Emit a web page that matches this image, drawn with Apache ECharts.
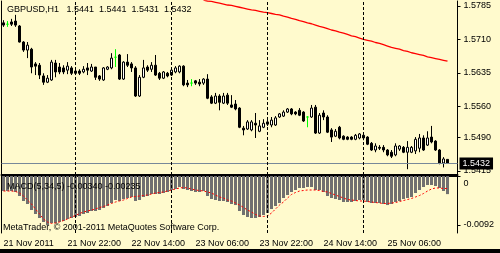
<!DOCTYPE html>
<html>
<head>
<meta charset="utf-8">
<script src="https://cdn.jsdelivr.net/npm/echarts@6/dist/echarts.min.js"></script>
<style>html,body{margin:0;padding:0;background:#fffacd;}#c{width:500px;height:253px;}</style>
</head>
<body>
<div id="c"></div>
<script>
// ---------------- data ----------------
const symbolName = 'GBPUSD,H1';
const startTime = Date.UTC(2011, 10, 21, 6); // first visible H1 bar
const slotCount = 114; // 112 bars + chart shift
const opens = [
1.5747,1.5744,1.5749,1.5751,1.5740,1.5704,1.5686,1.5688,1.5655,1.5652,
1.5628,1.5614,1.5619,1.5657,1.5648,1.5646,1.5641,1.5646,1.5639,1.5639,
1.5637,1.5646,1.5639,1.5648,1.5628,1.5619,1.5643,1.5646,1.5670,1.5675,
1.5621,1.5659,1.5655,1.5646,1.5583,1.5625,1.5648,1.5643,1.5652,1.5634,
1.5623,1.5634,1.5630,1.5637,1.5637,1.5650,1.5612,1.5612,1.5617,1.5614,
1.5612,1.5621,1.5581,1.5567,1.5583,1.5567,1.5585,1.5563,1.5565,1.5556,
1.5511,1.5509,1.5507,1.5522,1.5504,1.5513,1.5525,1.5518,1.5518,1.5536,
1.5538,1.5547,1.5554,1.5547,1.5551,1.5547,1.5536,1.5536,1.5558,1.5500,
1.5545,1.5536,1.5507,1.5493,1.5513,1.5493,1.5491,1.5491,1.5486,1.5489,
1.5495,1.5491,1.5477,1.5462,1.5468,1.5468,1.5462,1.5457,1.5451,1.5464,
1.5468,1.5457,1.5457,1.5460,1.5466,1.5489,1.5473,1.5491,1.5482,1.5462,
1.5433,1.5441];
const closes = [
1.5742,1.5744,1.5744,1.5742,1.5704,1.5686,1.5697,1.5648,1.5650,1.5630,
1.5614,1.5623,1.5659,1.5637,1.5637,1.5637,1.5650,1.5634,1.5634,1.5634,
1.5643,1.5641,1.5648,1.5625,1.5621,1.5646,1.5648,1.5668,1.5670,1.5621,
1.5659,1.5652,1.5646,1.5583,1.5625,1.5646,1.5641,1.5652,1.5630,1.5623,
1.5637,1.5628,1.5641,1.5646,1.5650,1.5608,1.5608,1.5612,1.5612,1.5610,
1.5621,1.5578,1.5567,1.5583,1.5569,1.5583,1.5567,1.5558,1.5554,1.5513,
1.5507,1.5525,1.5525,1.5518,1.5516,1.5522,1.5520,1.5529,1.5534,1.5543,
1.5547,1.5554,1.5543,1.5543,1.5540,1.5527,1.5536,1.5556,1.5500,1.5540,
1.5536,1.5502,1.5491,1.5504,1.5489,1.5486,1.5486,1.5486,1.5495,1.5498,
1.5489,1.5475,1.5462,1.5471,1.5466,1.5462,1.5451,1.5448,1.5471,1.5471,
1.5457,1.5468,1.5468,1.5486,1.5489,1.5462,1.5489,1.5480,1.5462,1.5433,
1.5442,1.5432];
const lows = [
1.5738,1.5738,1.5740,1.5738,1.5703,1.5682,1.5668,1.5634,1.5630,1.5621,
1.5608,1.5612,1.5617,1.5625,1.5632,1.5632,1.5632,1.5630,1.5630,1.5630,
1.5634,1.5630,1.5637,1.5619,1.5617,1.5617,1.5641,1.5643,1.5648,1.5619,
1.5619,1.5648,1.5637,1.5581,1.5581,1.5623,1.5637,1.5637,1.5628,1.5619,
1.5621,1.5625,1.5628,1.5634,1.5634,1.5605,1.5603,1.5605,1.5608,1.5605,
1.5608,1.5576,1.5565,1.5565,1.5551,1.5565,1.5563,1.5556,1.5551,1.5511,
1.5495,1.5507,1.5504,1.5489,1.5502,1.5511,1.5516,1.5513,1.5516,1.5534,
1.5536,1.5545,1.5540,1.5540,1.5538,1.5525,1.5513,1.5534,1.5498,1.5498,
1.5529,1.5500,1.5480,1.5491,1.5486,1.5484,1.5484,1.5484,1.5484,1.5486,
1.5484,1.5473,1.5460,1.5457,1.5462,1.5457,1.5448,1.5444,1.5448,1.5460,
1.5455,1.5419,1.5455,1.5453,1.5457,1.5460,1.5471,1.5477,1.5460,1.5430,
1.5423,1.5431];
const highs = [
1.5753,1.5751,1.5756,1.5765,1.5742,1.5706,1.5704,1.5691,1.5659,1.5657,
1.5634,1.5630,1.5664,1.5664,1.5657,1.5652,1.5659,1.5650,1.5646,1.5643,
1.5650,1.5657,1.5655,1.5648,1.5630,1.5648,1.5650,1.5679,1.5688,1.5677,
1.5661,1.5677,1.5659,1.5650,1.5630,1.5664,1.5652,1.5659,1.5675,1.5637,
1.5639,1.5637,1.5646,1.5650,1.5652,1.5652,1.5619,1.5621,1.5619,1.5621,
1.5623,1.5632,1.5585,1.5590,1.5587,1.5590,1.5590,1.5585,1.5574,1.5558,
1.5516,1.5529,1.5529,1.5545,1.5529,1.5531,1.5531,1.5536,1.5538,1.5545,
1.5551,1.5556,1.5556,1.5549,1.5556,1.5549,1.5538,1.5563,1.5563,1.5545,
1.5551,1.5540,1.5511,1.5509,1.5516,1.5495,1.5493,1.5493,1.5498,1.5500,
1.5500,1.5493,1.5480,1.5477,1.5473,1.5473,1.5464,1.5462,1.5477,1.5473,
1.5471,1.5482,1.5471,1.5491,1.5498,1.5495,1.5504,1.5516,1.5484,1.5464,
1.5446,1.5441];
// moving average (red line), visible from bar 50 on
const maStart = 50;
const maValues = [
1.5798,1.5796,1.5795,1.5793,1.5791,1.5789,1.5787,1.5786,1.5784,1.5782,
1.5780,1.5778,1.5776,1.5775,1.5773,1.5771,1.5770,1.5768,1.5766,1.5765,
1.5762,1.5760,1.5757,1.5755,1.5752,1.5750,1.5747,1.5745,1.5742,1.5739,
1.5737,1.5734,1.5731,1.5729,1.5726,1.5724,1.5721,1.5718,1.5716,1.5713,
1.5710,1.5708,1.5706,1.5703,1.5701,1.5698,1.5695,1.5692,1.5690,1.5688,
1.5685,1.5683,1.5680,1.5678,1.5676,1.5674,1.5671,1.5669,1.5667,1.5665,
1.5663,1.5661];
// MACD(5,34,5)
const macdMain = [
-0.00282,-0.00282,-0.00282,-0.00300,-0.00376,-0.00469,-0.00526,-0.00638,-0.00713,-0.00789,
-0.00864,-0.00920,-0.00882,-0.00882,-0.00864,-0.00845,-0.00807,-0.00789,-0.00770,-0.00751,
-0.00713,-0.00695,-0.00657,-0.00657,-0.00638,-0.00601,-0.00563,-0.00507,-0.00451,-0.00469,
-0.00432,-0.00413,-0.00394,-0.00469,-0.00451,-0.00394,-0.00376,-0.00338,-0.00338,-0.00338,
-0.00319,-0.00300,-0.00263,-0.00244,-0.00207,-0.00244,-0.00263,-0.00282,-0.00300,-0.00300,
-0.00282,-0.00376,-0.00432,-0.00451,-0.00469,-0.00469,-0.00488,-0.00526,-0.00545,-0.00657,
-0.00732,-0.00770,-0.00789,-0.00789,-0.00770,-0.00732,-0.00695,-0.00620,-0.00563,-0.00507,
-0.00413,-0.00357,-0.00300,-0.00263,-0.00225,-0.00225,-0.00207,-0.00207,-0.00263,-0.00263,
-0.00300,-0.00376,-0.00413,-0.00432,-0.00451,-0.00488,-0.00488,-0.00488,-0.00469,-0.00451,
-0.00451,-0.00488,-0.00507,-0.00507,-0.00507,-0.00526,-0.00545,-0.00526,-0.00488,-0.00469,
-0.00432,-0.00413,-0.00394,-0.00319,-0.00263,-0.00207,-0.00169,-0.00169,-0.00188,-0.00225,
-0.00282,-0.00340];
const macdSignal = [
-0.00282,-0.00282,-0.00282,-0.00291,-0.00319,-0.00376,-0.00451,-0.00526,-0.00620,-0.00713,
-0.00807,-0.00864,-0.00892,-0.00882,-0.00864,-0.00836,-0.00807,-0.00770,-0.00742,-0.00704,
-0.00676,-0.00657,-0.00638,-0.00620,-0.00591,-0.00573,-0.00545,-0.00516,-0.00488,-0.00469,
-0.00451,-0.00422,-0.00394,-0.00385,-0.00376,-0.00366,-0.00357,-0.00338,-0.00319,-0.00310,
-0.00300,-0.00282,-0.00263,-0.00244,-0.00225,-0.00216,-0.00225,-0.00244,-0.00263,-0.00272,
-0.00282,-0.00300,-0.00319,-0.00357,-0.00394,-0.00413,-0.00451,-0.00469,-0.00507,-0.00545,
-0.00591,-0.00638,-0.00676,-0.00723,-0.00751,-0.00760,-0.00751,-0.00695,-0.00620,-0.00545,
-0.00488,-0.00413,-0.00347,-0.00310,-0.00282,-0.00272,-0.00263,-0.00263,-0.00263,-0.00272,
-0.00291,-0.00300,-0.00329,-0.00357,-0.00385,-0.00413,-0.00441,-0.00451,-0.00460,-0.00469,
-0.00469,-0.00479,-0.00488,-0.00498,-0.00507,-0.00516,-0.00516,-0.00507,-0.00498,-0.00479,
-0.00460,-0.00441,-0.00422,-0.00394,-0.00366,-0.00329,-0.00282,-0.00244,-0.00225,-0.00225,
-0.00235,-0.00235];
const priceTicks = [1.5785, 1.5710, 1.5635, 1.5560, 1.5490, 1.5415];
const macdTicks = [0, -0.0092];
const timeTickCats = ['21 Nov 06:00','21 Nov 22:00','22 Nov 14:00','23 Nov 06:00','23 Nov 22:00','24 Nov 14:00','25 Nov 06:00'];
const timeTickLabels = ['21 Nov 2011','21 Nov 22:00','22 Nov 14:00','23 Nov 06:00','23 Nov 22:00','24 Nov 14:00','25 Nov 06:00'];
const daySeparators = ['22 Nov 00:00','23 Nov 00:00','24 Nov 00:00','25 Nov 00:00'];
const copyright = 'MetaTrader, \u00a9 2001-2011 MetaQuotes Software Corp.';

// ---------------- build ----------------
const MON = ['Jan','Feb','Mar','Apr','May','Jun','Jul','Aug','Sep','Oct','Nov','Dec'];
const categories = [];
for (let k = 0; k < slotCount; k++) {
  const d = new Date(startTime + k * 3600e3);
  categories.push(d.getUTCDate() + ' ' + MON[d.getUTCMonth()] + ' ' + String(d.getUTCHours()).padStart(2,'0') + ':00');
}
const n = opens.length;
const green = '#00ff00';
const candleData = opens.map((o, i) => {
  const item = { value: [o, closes[i], lows[i], highs[i]] };
  if (o === closes[i]) item.itemStyle = { color: green, color0: green, borderColor: green, borderColor0: green };
  return item;
});
const maData = categories.map((c, i) => (i >= maStart && i - maStart < maValues.length) ? maValues[i - maStart] : null);
const last = n - 1;
const bid = closes[last];
const titleText = symbolName + '   ' + opens[last].toFixed(4) + '  ' + highs[last].toFixed(4) + '  ' + lows[last].toFixed(4) + '  ' + closes[last].toFixed(4);
const macdText = 'MACD(5,34,5) ' + macdMain[last].toFixed(5) + ' ' + macdSignal[last].toFixed(5);
const isTimeTick = (idx, val) => timeTickCats.indexOf(val) >= 0;
const FONT = 'Liberation Sans, Arial, sans-serif';
const sepStyle = { lineStyle: { color: '#000', type: [3, 2], width: 1 }, label: { show: false } };
const sepLine = daySeparators.map(d => Object.assign({ xAxis: d }, sepStyle));
const tStyle = { fontSize: 9, fontWeight: 'normal', color: '#000', fontFamily: FONT, lineHeight: 10 };

const chart = echarts.init(document.getElementById('c'), null, { renderer: 'canvas' });
chart.setOption({
  animation: false,
  backgroundColor: '#fffacd',
  textStyle: { fontFamily: FONT },
  title: [
    { text: titleText, left: 7, top: 5, padding: 0, textStyle: tStyle },
    { text: macdText, left: 7, top: 182, padding: 0, textStyle: tStyle },
    { text: copyright, left: 3, top: 223, padding: 0, textStyle: tStyle }
  ],
  grid: [
    { left: 1.5, top: 1, width: 456, height: 174 },
    { left: 1.5, top: 176, width: 456, height: 57 }
  ],
  xAxis: [
    { type: 'category', gridIndex: 0, data: categories, boundaryGap: true,
      axisLine: { show: true, lineStyle: { color: '#000', width: 2 } },
      axisTick: { show: false }, axisLabel: { show: false }, splitLine: { show: false } },
    { type: 'category', gridIndex: 1, data: categories, boundaryGap: true,
      axisLine: { show: true, lineStyle: { color: '#000', width: 1 } },
      axisTick: { show: true, interval: isTimeTick, alignWithLabel: true, length: 4, lineStyle: { color: '#000' } },
      axisLabel: { show: true, interval: isTimeTick, align: 'left', margin: 6, fontSize: 9, color: '#000', fontFamily: FONT,
        formatter: (v) => timeTickLabels[timeTickCats.indexOf(v)] },
      splitLine: { show: false } }
  ],
  yAxis: [
    { type: 'value', gridIndex: 0, position: 'right', min: 1.5406, max: 1.5796, scale: true,
      axisLine: { show: true, lineStyle: { color: '#000' } },
      axisTick: { show: true, customValues: priceTicks, length: 3, lineStyle: { color: '#000' } },
      axisLabel: { show: true, customValues: priceTicks, formatter: v => v.toFixed(4), fontSize: 9, color: '#000', margin: 6, fontFamily: FONT },
      splitLine: { show: false } },
    { type: 'value', gridIndex: 0, position: 'left', min: 1.5406, max: 1.5796, scale: true,
      axisLine: { show: true, lineStyle: { color: '#000' } }, axisTick: { show: false }, axisLabel: { show: false }, splitLine: { show: false } },
    { type: 'value', gridIndex: 1, position: 'right', min: -0.0107, max: 0,
      axisLine: { show: true, lineStyle: { color: '#000' } },
      axisTick: { show: true, customValues: macdTicks, length: 3, lineStyle: { color: '#000' } },
      axisLabel: { show: true, customValues: macdTicks, fontSize: 9, color: '#000', margin: 6, fontFamily: FONT,
        formatter: v => v === 0 ? '{t|0}' : v.toFixed(4),
        rich: { t: { padding: [16, 0, 0, 0], fontSize: 9, color: '#000', fontFamily: FONT } } },
      splitLine: { show: false } },
    { type: 'value', gridIndex: 1, position: 'left', min: -0.0107, max: 0,
      axisLine: { show: true, lineStyle: { color: '#000' } }, axisTick: { show: false }, axisLabel: { show: false }, splitLine: { show: false } }
  ],
  series: [
    { type: 'candlestick', xAxisIndex: 0, yAxisIndex: 0, data: candleData, barWidth: 3,
      itemStyle: { color: '#ffffff', color0: '#000000', borderColor: '#000000', borderColor0: '#000000', borderWidth: 1 },
      markLine: { silent: true, symbol: 'none', animation: false, precision: 4,
        data: [
          { yAxis: bid, lineStyle: { color: '#778899', type: 'solid', width: 1 },
            label: { show: true, position: 'end', formatter: bid.toFixed(4), backgroundColor: '#000', color: '#fff', fontSize: 9, fontFamily: FONT, padding: [2, 3, 1, 3], distance: 2 } }
        ] } },
    { type: 'line', xAxisIndex: 0, yAxisIndex: 0, data: maData, symbol: 'none', connectNulls: false, clip: true,
      lineStyle: { color: '#ff0000', width: 1.3 },
      markLine: { silent: true, symbol: 'none', animation: false, data: sepLine } },
    { type: 'bar', xAxisIndex: 1, yAxisIndex: 2, data: macdMain, barWidth: 3, itemStyle: { color: '#707070' },
      markLine: { silent: true, symbol: 'none', animation: false, data: sepLine } },
    { type: 'line', xAxisIndex: 1, yAxisIndex: 2, data: macdSignal, symbol: 'none',
      lineStyle: { color: '#ff0000', width: 1, type: [2, 2] } }
  ],
  graphic: [
    { type: 'rect', left: 0, top: 249, shape: { width: 500, height: 4 }, style: { fill: '#000' }, silent: true }
  ]
});
</script>
</body>
</html>
